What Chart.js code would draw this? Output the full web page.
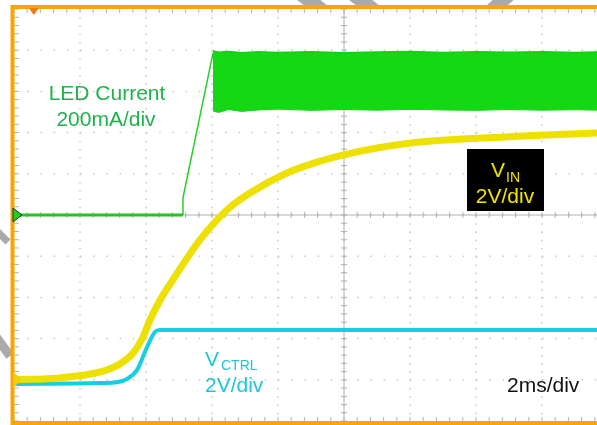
<!DOCTYPE html>
<html>
<head>
<meta charset="utf-8">
<script src="https://cdn.jsdelivr.net/npm/chart.js@4.4.1/dist/chart.umd.min.js"></script>
<style>
  html, body { margin: 0; padding: 0; background: #fff; overflow: hidden; }
  #wrap { width: 597px; height: 425px; overflow: hidden; }
</style>
</head>
<body>
<div id="wrap"><canvas id="scope" width="690" height="425"></canvas></div>
<script>
// time in ms (2ms/div, 10 div on screen; right part is cropped by the window)
// LED current in mA (200mA/div), voltages in V (2V/div)

// LED current: flat, small step, linear ramp
const ledBaseT = [0, 5.12];
const ledBaseMa = [0, 0];
const ledRampT = [5.12, 5.12, 6.03];
const ledRampMa = [0, 83, 786];

// LED current after the ramp: fast switching, drawn as a band
const bandT = [6.03, 6.2, 6.5, 6.9, 7.4, 8.0, 9.0, 10.0, 11.0, 12.0, 13.0, 14.0, 15.0, 16.0, 17.0, 18.0, 19.0, 20.0];
const bandTopMa = [796, 790, 794, 788, 792, 789, 793, 788, 791, 794, 789, 792, 790, 793, 789, 792, 790, 791];
const bandBottomMa = [505, 498, 512, 503, 510, 514, 508, 512, 509, 513, 510, 508, 512, 509, 511, 508, 512, 510];

// V_IN
const vinT = [0, 1.39, 2.61, 3.21, 3.61, 3.91, 4.12, 4.42, 4.73, 5.18, 5.64, 6.09, 6.55, 7.15, 8.27, 9.18, 9.97, 11.0, 12.3, 14.73, 17.67, 20.0];
const vinV = [0, 0.09, 0.38, 0.77, 1.30, 2.08, 2.90, 3.85, 4.65, 5.75, 6.80, 7.65, 8.38, 9.07, 10.04, 10.57, 10.91, 11.25, 11.54, 11.78, 11.98, 12.08];

// V_CTRL
const ctrlT = [0, 2.61, 3.15, 3.42, 3.73, 4.03, 4.27, 4.42, 8.0, 12.0, 16.0, 20.0];
const ctrlV = [-0.20, -0.16, -0.11, 0.04, 0.48, 1.59, 2.32, 2.42, 2.42, 2.42, 2.42, 2.42];

function pts(xs, ys) {
    return xs.map((x, i) => ({ x: x, y: ys[i] }));
}

// Screen furniture: watermark, grid, frame, markers, labels
const scopePlugin = {
    id: 'scope',
    beforeDraw(chart) {
        const ctx = chart.ctx;
        const a = chart.chartArea;
        ctx.save();
        ctx.fillStyle = '#fff';
        ctx.fillRect(0, 0, chart.width, chart.height);

        // faint watermark strokes around the frame
        ctx.strokeStyle = '#aaaaaa';
        [[298, -8, 322, 10, 14], [350, -8, 374, 10, 14], [512, -8, 492, 10, 14], [-6, 334, 10, 356, 9], [-6, 228, 8, 242, 7]].forEach((s) => {
            ctx.lineWidth = s[4];
            ctx.beginPath();
            ctx.moveTo(s[0], s[1]);
            ctx.lineTo(s[2], s[3]);
            ctx.stroke();
        });
        ctx.fillStyle = '#fff';
        ctx.fillRect(a.left, a.top, a.right - a.left, a.bottom - a.top);

        const x = chart.scales.x;
        const y = chart.scales.yCur;
        const dx = (a.right - a.left) / 10;
        const dy = (a.bottom - a.top) / 10;

        // dotted grid
        ctx.strokeStyle = '#c8c8c8';
        ctx.lineWidth = 1.5;
        for (let i = 1; i < 10; i++) {
            const px = x.getPixelForValue(i * 2);
            ctx.setLineDash([1.5, dy / 5 - 1.5]);
            ctx.beginPath();
            ctx.moveTo(px, a.top);
            ctx.lineTo(px, a.bottom);
            ctx.stroke();
            const py = y.getPixelForValue(-1000 + i * 200);
            ctx.setLineDash([1.5, dx / 5 - 1.5]);
            ctx.beginPath();
            ctx.moveTo(a.left, py);
            ctx.lineTo(a.right, py);
            ctx.stroke();
        }
        ctx.setLineDash([]);

        // centre axes with minor ticks
        const cx = x.getPixelForValue(10);
        const cy = y.getPixelForValue(0);
        ctx.strokeStyle = '#b2b2b2';
        ctx.lineWidth = 1;
        ctx.beginPath();
        ctx.moveTo(cx, a.top);
        ctx.lineTo(cx, a.bottom);
        ctx.moveTo(a.left, cy);
        ctx.lineTo(a.right, cy);
        for (let k = 0; k <= 50; k++) {
            const ty = a.top + k * dy / 5;
            ctx.moveTo(cx - 3, ty);
            ctx.lineTo(cx + 3, ty);
            ctx.moveTo(a.left, ty);
            ctx.lineTo(a.left + 5, ty);
            const tx = a.left + k * dx / 5;
            ctx.moveTo(tx, cy - 3);
            ctx.lineTo(tx, cy + 3);
            ctx.moveTo(tx, a.top);
            ctx.lineTo(tx, a.top + 4);
            ctx.moveTo(tx, a.bottom);
            ctx.lineTo(tx, a.bottom - 4);
        }
        ctx.stroke();
        ctx.restore();
    },
    afterDraw(chart) {
        const ctx = chart.ctx;
        const a = chart.chartArea;
        const x = chart.scales.x;
        ctx.save();

        // orange frame
        ctx.strokeStyle = '#f6a800';
        ctx.lineWidth = 4;
        ctx.strokeRect(a.left - 1.5, a.top - 2, a.right - a.left + 4, a.bottom - a.top + 4);

        // channel ground markers on the left edge
        const gc = chart.scales.yCur.getPixelForValue(0);
        ctx.beginPath();
        ctx.moveTo(a.left - 1, gc - 7);
        ctx.lineTo(a.left + 8, gc);
        ctx.lineTo(a.left - 1, gc + 7);
        ctx.closePath();
        ctx.fillStyle = '#19d419';
        ctx.fill();
        ctx.strokeStyle = '#2a2a2a';
        ctx.lineWidth = 1;
        ctx.stroke();

        const gy = chart.scales.yV.getPixelForValue(0);
        ctx.beginPath();
        ctx.moveTo(a.left - 1, gy - 8);
        ctx.lineTo(a.left + 8, gy);
        ctx.lineTo(a.left - 1, gy + 8);
        ctx.closePath();
        ctx.fillStyle = '#f0d000';
        ctx.fill();

        // trigger position marker
        const tp = x.getPixelForValue(0.6);
        ctx.beginPath();
        ctx.moveTo(tp - 5, a.top - 1);
        ctx.lineTo(tp + 5, a.top - 1);
        ctx.lineTo(tp, a.top + 6);
        ctx.closePath();
        ctx.fillStyle = '#f07a10';
        ctx.fill();

        // labels
        const font = '21px "Liberation Sans", Arial, sans-serif';
        const small = '14px "Liberation Sans", Arial, sans-serif';
        ctx.textBaseline = 'alphabetic';
        ctx.font = font;
        ctx.fillStyle = '#22b04c';
        ctx.textAlign = 'center';
        ctx.fillText('LED Current', 107, 100);
        ctx.fillText('200mA/div', 106, 126);

        // V_IN box
        ctx.fillStyle = '#000';
        ctx.fillRect(467, 149, 77, 62);
        ctx.fillStyle = '#f2e400';
        ctx.textAlign = 'left';
        ctx.font = font;
        ctx.fillText('V', 491, 177);
        ctx.font = small;
        ctx.fillText('IN', 506, 182);
        ctx.font = font;
        ctx.textAlign = 'center';
        ctx.fillText('2V/div', 505, 203);

        // V_CTRL
        ctx.fillStyle = '#1ec6d8';
        ctx.textAlign = 'left';
        ctx.font = font;
        ctx.fillText('V', 205, 366);
        ctx.font = small;
        ctx.fillText('CTRL', 221, 370);
        ctx.font = font;
        ctx.fillText('2V/div', 205, 392);

        ctx.fillStyle = '#111';
        ctx.fillText('2ms/div', 507, 392);
        ctx.restore();
    }
};

new Chart(document.getElementById('scope').getContext('2d'), {
    type: 'line',
    data: {
        datasets: [
            {
                data: pts(bandT, bandBottomMa),
                yAxisID: 'yCur',
                borderColor: '#10d010',
                borderWidth: 1,
                fill: false,
                order: 5
            },
            {
                data: pts(bandT, bandTopMa),
                yAxisID: 'yCur',
                borderColor: '#10d010',
                borderWidth: 1.5,
                backgroundColor: '#14d814',
                fill: '-1',
                order: 4
            },
            {
                data: pts(ledBaseT, ledBaseMa),
                yAxisID: 'yCur',
                borderColor: '#22c622',
                borderWidth: 3,
                order: 3
            },
            {
                data: pts(ledRampT, ledRampMa),
                yAxisID: 'yCur',
                borderColor: '#2ccc2c',
                borderWidth: 1.5,
                order: 3
            },
            {
                data: pts(ctrlT, ctrlV),
                yAxisID: 'yV',
                borderColor: '#14cfe2',
                borderWidth: 4,
                cubicInterpolationMode: 'monotone',
                order: 1
            },
            {
                data: pts(vinT, vinV),
                yAxisID: 'yV',
                borderColor: '#eee000',
                borderWidth: 7,
                cubicInterpolationMode: 'monotone',
                order: 0
            }
        ]
    },
    options: {
        responsive: false,
        animation: false,
        layout: { padding: { left: 14, top: 9, right: 16, bottom: 4 } },
        elements: { point: { radius: 0 } },
        plugins: { legend: { display: false }, tooltip: { enabled: false } },
        scales: {
            x: { type: 'linear', min: 0, max: 20, display: false },
            yCur: { min: -1000, max: 1000, display: false },
            yV: { min: -2, max: 18, display: false }
        }
    },
    plugins: [scopePlugin]
});
</script>
</body>
</html>
